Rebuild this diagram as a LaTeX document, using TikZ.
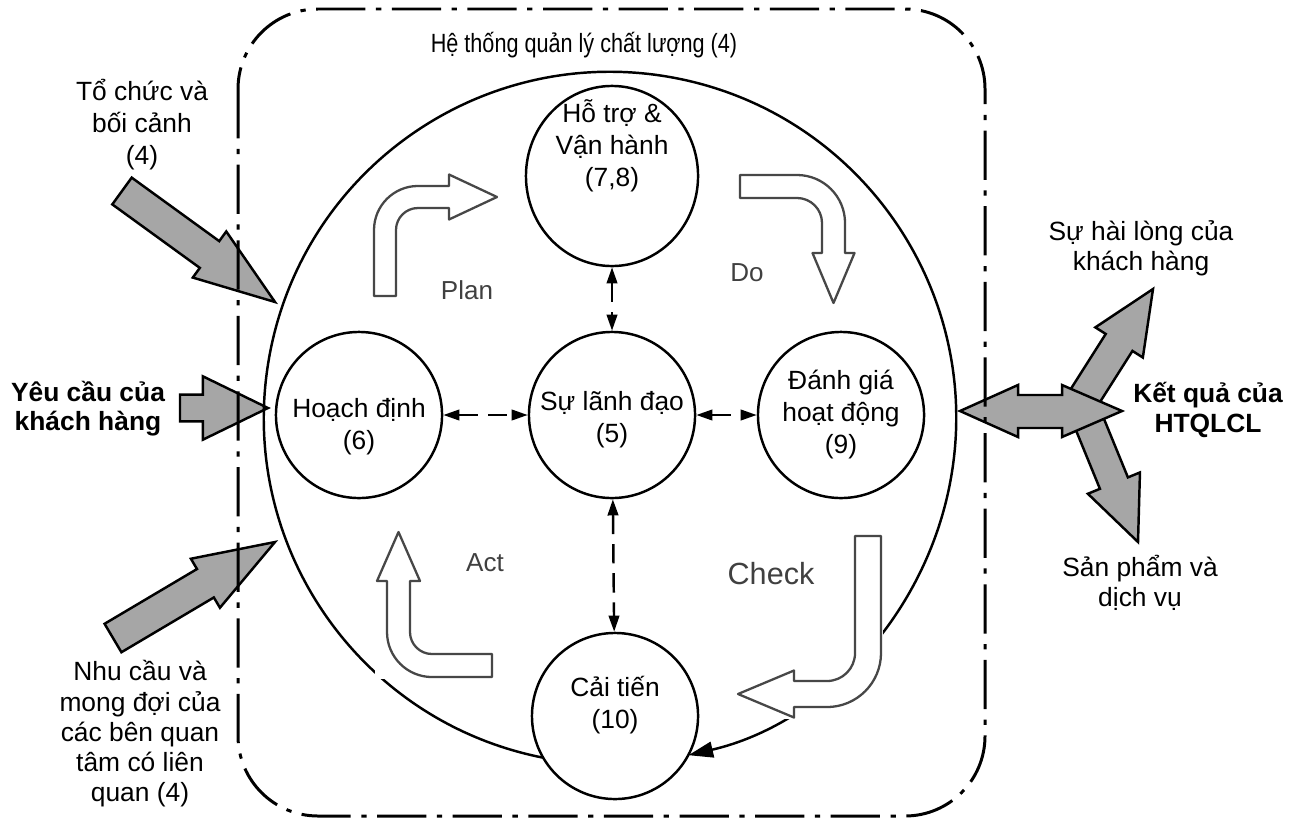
\documentclass[tikz,border=0pt]{standalone}
\usepackage{fontspec}
\setmainfont{Liberation Sans}
\newfontfamily\narrowfont[FakeStretch=0.82]{Liberation Sans}
\usetikzlibrary{arrows.meta, calc, shapes.geometric}
\tikzset{
  stage/.style={circle, draw, line width=0.7pt, fill=white, minimum size=1.66cm, inner sep=0pt},
  stagelabel/.style={align=center, inner sep=0pt, font=\fontsize{7.5}{9.1}\selectfont},
  note/.style={align=center, inner sep=0pt, font=\fontsize{7.5}{8.6}\selectfont},
  strong/.style={note, font=\fontsize{7.5}{8.3}\selectfont\bfseries},
  phase/.style={inner sep=0pt, text=black!75, font=\fontsize{7.4}{9}\selectfont},
  link/.style={{Triangle[length=4.6pt,width=3pt]}-{Triangle[length=4.6pt,width=3pt]}, line width=0.7pt, dash pattern=on 5.5pt off 2.8pt},
  ring/.style={line width=0.7pt, -{Triangle[length=7pt,width=4.5pt]}},
  bent/.style={draw=black!72, line width=0.65pt, fill=white, line join=round},
  blockarrow/.style={draw, fill=black!35, line width=0.7pt, line join=miter},
  frame/.style={line width=0.85pt, rounded corners=0.8cm, dash pattern=on 14pt off 3pt on 1.5pt off 3pt}
}
% tail, tip, shaft half width, head half width, head length
\newcommand{\blockarrow}[5]{%
  \coordinate (neck) at ($(#2)!#5!(#1)$);
  \draw[blockarrow] ($(#1)!#3!90:(#2)$) -- ($(neck)!#3!90:(#2)$)
    -- ($(neck)!#4!90:(#2)$) -- (#2) -- ($(neck)!#4!-90:(#2)$)
    -- ($(neck)!#3!-90:(#2)$) -- ($(#1)!#3!-90:(#2)$) -- cycle;}

\begin{document}
\begin{tikzpicture}[x=0.01cm, y=-0.01cm]
\useasboundingbox (0,0) rectangle (1301,821);

% inputs
\coordinate (orgtail) at (122,191);
\coordinate (orgtip) at (275,302);
\coordinate (reqtail) at (180,408);
\coordinate (reqtip) at (268,408);
\coordinate (needtail) at (113,638);
\coordinate (needtip) at (275,542);
\blockarrow{orgtail}{orgtip}{4.7pt}{8.1pt}{23pt}
\blockarrow{reqtail}{reqtip}{3.8pt}{9pt}{18.5pt}
\blockarrow{needtail}{needtip}{4.7pt}{8.1pt}{23pt}

% the cycle
\coordinate (hub) at (610,418);
\draw[ring] (hub) ++(258.8:3.46cm) arc[start angle=258.8, end angle=-76.9, radius=3.46cm];

% PDCA arrows
\fill[white] (735,533) rectangle (883,719);
\fill[white] (375,529) rectangle (494,679);
\draw[bent] (374,296) -- (374,230) arc[start angle=180, end angle=90, radius=0.44cm]
  -- (449,186) -- (449,174.5) -- (497,197) -- (449,219.5) -- (449,208) -- (418,208)
  arc[start angle=90, end angle=180, radius=0.22cm] -- (396,296) -- cycle;
\draw[bent] (740,175) -- (797,175) arc[start angle=90, end angle=0, radius=0.48cm]
  -- (845,253) -- (854.5,253) -- (833.5,303) -- (812.5,253) -- (822,253) -- (822,223)
  arc[start angle=0, end angle=90, radius=0.25cm] -- (740,198) -- cycle;
\draw[bent] (855,536) -- (881,536) -- (881,653) arc[start angle=0, end angle=-90, radius=0.54cm]
  -- (794,707) -- (794,717.5) -- (738,694) -- (794,670.5) -- (794,681) -- (827,681)
  arc[start angle=-90, end angle=0, radius=0.28cm] -- cycle;
\draw[bent] (387,581) -- (387,632) arc[start angle=180, end angle=270, radius=0.45cm]
  -- (492,677) -- (492,654) -- (432,654) arc[start angle=270, end angle=180, radius=0.22cm]
  -- (410,581) -- (420,581) -- (398.5,532) -- (377,581) -- cycle;

\node[phase] (plantext) at (467,290) {Plan};
\node[phase] (dotext) at (747,273) {Do};
\node[phase] (acttext) at (485,563) {Act};
\node[phase, font=\fontsize{8.7}{10}\selectfont] (checktext) at (771,574) {Check};

% stages
\node[stage, ellipse, minimum width=1.72cm, minimum height=1.8cm, label={[stagelabel, yshift=8.6pt]center:Hỗ trợ \&\\Vận hành\\(7,8)}] (support) at (612,176) {};
\node[stage, label={[stagelabel, yshift=-1.4pt]center:Sự lãnh đạo\\(5)}] (lead) at (612,415) {};
\node[stage, label={[stagelabel, yshift=-3.2pt]center:Hoạch định\\(6)}] (plan) at (359,415) {};
\node[stage, label={[stagelabel]center:Đánh giá\\hoạt động\\(9)}] (eval) at (841,415) {};
\node[stage, label={[stagelabel, yshift=3pt]center:Cải tiến\\(10)}] (improve) at (615,716) {};

\draw[link] (support) -- (lead);
\draw[link] (plan) -- (lead);
\draw[link] (lead) -- (eval);
\draw[link] (lead) -- (improve);

% outputs
\coordinate (uptail) at (1073,415);
\coordinate (uptip) at (1153,289);
\coordinate (downtail) at (1084,410);
\coordinate (downtip) at (1138,542);
\blockarrow{uptail}{uptip}{4.5pt}{8pt}{18pt}
\blockarrow{downtail}{downtip}{4.3pt}{8pt}{18.1pt}
\draw[blockarrow] (960,411) -- (1018,385) -- (1018,395) -- (1062,395) -- (1062,385)
  -- (1122,411) -- (1062,437) -- (1062,428) -- (1018,428) -- (1018,437) -- cycle;

% texts
\node[note, font=\fontsize{7.5}{9}\selectfont\narrowfont] (title) at (584,45) {Hệ thống quản lý chất lượng (4)};
\node[note, font=\fontsize{7.5}{9.1}\selectfont] (org) at (142,125) {Tổ chức và\\bối cảnh\\(4)};
\node[strong] (req) at (88,409) {Yêu cầu của\\khách hàng};
\node[note] (needs) at (140,734) {Nhu cầu và\\mong đợi của\\các bên quan\\tâm có liên\\quan (4)};
\node[note] (satis) at (1141,248) {Sự hài lòng của\\khách hàng};
\node[strong] (result) at (1208,410) {Kết quả của\\HTQLCL};
\node[note] (product) at (1140,583) {Sản phẩm và\\dịch vụ};

% system boundary
\draw[frame] (238,9) rectangle (985,816);
\end{tikzpicture}
\end{document}
